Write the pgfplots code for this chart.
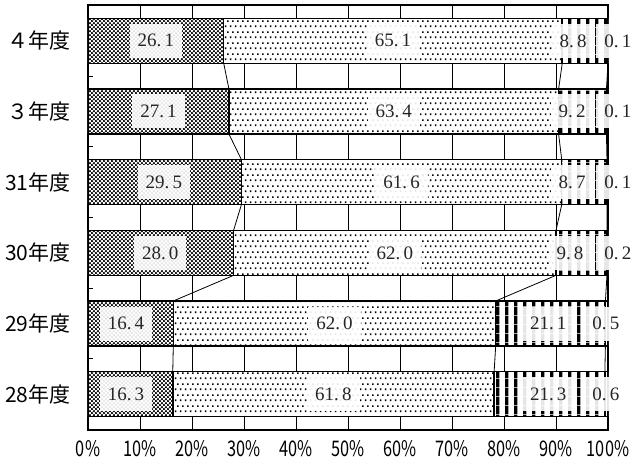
\documentclass[border=0pt]{standalone}
\usepackage{pgfplots}
\usepackage{pgfplotstable}
\pgfplotsset{compat=1.18}
\usetikzlibrary{patterns}
\usepackage{fontspec}
\newfontfamily\jp{Noto Sans CJK JP}
\newfontfamily\jpnum[FakeStretch=0.76]{Noto Sans CJK JP}
\newfontfamily\valfont{Liberation Serif}

\pgfdeclarepatternformonly{xdense}{\pgfpointorigin}{\pgfpoint{4.4pt}{4.4pt}}{\pgfpoint{4.4pt}{4.4pt}}{%
  \pgfpathcircle{\pgfpoint{1.1pt}{1.1pt}}{1.42pt}%
  \pgfpathcircle{\pgfpoint{3.3pt}{3.3pt}}{1.42pt}%
  \pgfusepath{fill}}
\pgfdeclarepatternformonly{sparsedots}{\pgfpointorigin}{\pgfpoint{5.3pt}{10.6pt}}{\pgfpoint{5.3pt}{10.6pt}}{%
  \pgfpathrectangle{\pgfpoint{1pt}{1pt}}{\pgfpoint{1.7pt}{1.7pt}}%
  \pgfpathrectangle{\pgfpoint{3.65pt}{6.3pt}}{\pgfpoint{1.7pt}{1.7pt}}%
  \pgfusepath{fill}}
\pgfdeclarepatternformonly{vstripes}{\pgfpointorigin}{\pgfpoint{8.7pt}{8.7pt}}{\pgfpoint{8.7pt}{8.7pt}}{%
  \pgfpathrectangle{\pgfpointorigin}{\pgfpoint{3.6pt}{8.7pt}}%
  \pgfusepath{fill}}

\tikzset{lbl/.style={font=\valfont\fontsize{19}{20}\selectfont, text=black!85, fill=white, fill opacity=0.9, text opacity=1, inner xsep=8pt, minimum height=34pt, anchor=center}}

% y: 0 = 28年度 ... 5 = 4年度
\pgfplotstableread{
y a b c d
0 16.3 61.8 21.3 0.6
1 16.4 62.0 21.1 0.5
2 28.0 62.0 9.8 0.2
3 29.5 61.6 8.7 0.1
4 27.1 63.4 9.2 0.1
5 26.1 65.1 8.8 0.1
}\data

% label positions
\pgfplotstableread{
y xa xb xc xd a b c d
0 7.3 47.2 88.5 99.6 16.3 61.8 21.3 0.6
1 7.3 47.4 88.5 99.6 16.4 62.0 21.1 0.5
2 13.9 59.0 92.7 101.9 28.0 62.0 9.8 0.2
3 14.6 60.3 93.1 101.9 29.5 61.6 8.7 0.1
4 13.55 58.8 93.1 101.9 27.1 63.4 9.2 0.1
5 13.05 58.65 93.3 101.9 26.1 65.1 8.8 0.1
}\lab

\begin{document}
\begin{tikzpicture}
\begin{axis}[
  name=main,
  at={(0,0)}, anchor=south west,
  xbar stacked, bar width=0.637,
  scale only axis, width=520pt, height=424pt,
  xmin=0, xmax=100, ymin=-0.5, ymax=5.5,
  xtick={0,10,...,100},
  xticklabels={0\%,10\%,20\%,30\%,40\%,50\%,60\%,70\%,80\%,90\%,100\%},
  xmajorgrids, major x grid style={black, line width=0.9pt},
  ytick={0,...,5},
  yticklabels={28年度,29年度,30年度,31年度,３年度,４年度},
  minor ytick={0.5,1.5,2.5,3.5,4.5},
  major tick length=0pt, minor tick length=5pt,
  tick align=inside, ytick pos=left, xtick pos=bottom,
  minor tick style={black, line width=0.9pt},
  axis line style={black, line width=2pt},
  yticklabel style={font=\jp\fontsize{21}{22}\selectfont, xshift=-14pt},
  xticklabel style={font=\jpnum\fontsize{21.5}{22}\selectfont, yshift=-7pt},
]
\addplot[fill=white, draw=black, line width=1.5pt, postaction={pattern=xdense}] table[x=a, y=y] {\data};
\addplot[fill=white, draw=black, line width=1.5pt, postaction={pattern=sparsedots}] table[x=b, y=y] {\data};
\addplot[fill=white, draw=black, line width=1.5pt, postaction={pattern=vstripes}] table[x=c, y=y] {\data};
\addplot[fill=white, draw=black, line width=1.5pt, postaction={pattern=vstripes}] table[x=d, y=y] {\data};
\end{axis}
\begin{axis}[
  at={(0,0)}, anchor=south west,
  scale only axis, width=520pt, height=424pt,
  xmin=0, xmax=100, ymin=-0.5, ymax=5.5,
  hide axis, clip=false,
  unbounded coords=jump,
]
% series lines
\addplot[black, line width=0.8pt, mark=none] coordinates {
 (26.1,4.6815) (27.1,4.3185) (nan,nan)
 (27.1,3.6815) (29.5,3.3185) (nan,nan)
 (29.5,2.6815) (28.0,2.3185) (nan,nan)
 (28.0,1.6815) (16.4,1.3185) (nan,nan)
 (16.4,0.6815) (16.3,0.3185)};
\addplot[black, line width=0.8pt, mark=none] coordinates {
 (91.2,4.6815) (90.5,4.3185) (nan,nan)
 (90.5,3.6815) (91.1,3.3185) (nan,nan)
 (91.1,2.6815) (90.0,2.3185) (nan,nan)
 (90.0,1.6815) (78.4,1.3185) (nan,nan)
 (78.4,0.6815) (78.1,0.3185)};
\addplot[black, line width=0.8pt, mark=none] coordinates {
 (100.0,4.6815) (99.7,4.3185) (nan,nan)
 (99.7,3.6815) (99.8,3.3185) (nan,nan)
 (99.8,2.6815) (99.8,2.3185) (nan,nan)
 (99.8,1.6815) (99.5,1.3185) (nan,nan)
 (99.5,0.6815) (99.4,0.3185)};
% value labels
\pgfplotsinvokeforeach{a,b,c,d}{
\addplot[draw=none, mark=none, nodes near coords={\pgfmathprintnumber[fixed,fixed zerofill,precision=1,dec sep={.\,},assume math mode=true]{\pgfplotspointmeta}}, point meta=explicit, nodes near coords align=center, every node near coord/.style={lbl}] table[x=x#1, y=y, meta=#1] {\lab};
}
\end{axis}
\pgfresetboundingbox
\path ([shift={(-88pt,-36.5pt)}]main.south west) rectangle ([shift={(36pt,5.5pt)}]main.north east);
\end{tikzpicture}
\end{document}
